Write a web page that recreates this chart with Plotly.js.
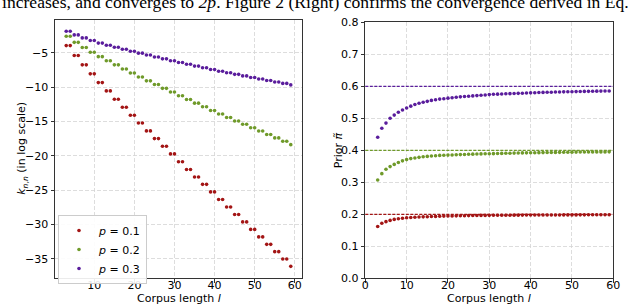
<!DOCTYPE html>
<html>
<head>
<meta charset="utf-8">
<script src="https://cdn.plot.ly/plotly-3.0.1.min.js"></script>
<style>html,body{margin:0;padding:0;background:#fff;}#chart{width:640px;height:304px;}</style>
</head>
<body>
<div id="chart"></div>
<script>
// Corpus length l
const corpusLength = [3,4,5,6,7,8,9,10,11,12,13,14,15,16,17,18,19,20,21,22,23,24,25,26,27,28,29,30,31,32,33,34,35,36,37,38,39,40,41,42,43,44,45,46,47,48,49,50,51,52,53,54,55,56,57,58,59];
// Left panel: k_{n,n} (in log scale)
const kP01 = [-3.94,-3.94,-5.39,-5.39,-6.75,-6.75,-8.06,-8.06,-9.33,-9.33,-10.54,-10.54,-11.76,-11.76,-12.92,-12.92,-14.08,-14.08,-15.22,-15.22,-16.37,-16.37,-17.49,-17.49,-18.60,-18.60,-19.72,-19.72,-20.87,-20.87,-21.99,-21.99,-23.08,-23.08,-24.16,-24.16,-25.26,-25.26,-26.36,-26.36,-27.45,-27.45,-28.54,-28.54,-29.63,-29.63,-30.72,-30.72,-31.81,-31.81,-32.90,-32.90,-33.96,-33.96,-35.03,-35.03,-36.10];
const kP02 = [-2.58,-2.58,-3.47,-3.47,-4.22,-4.22,-4.92,-4.92,-5.55,-5.55,-6.16,-6.16,-6.75,-6.75,-7.35,-7.35,-7.94,-7.94,-8.52,-8.52,-9.08,-9.08,-9.62,-9.62,-10.17,-10.17,-10.70,-10.70,-11.25,-11.25,-11.79,-11.79,-12.33,-12.33,-12.86,-12.86,-13.39,-13.39,-13.90,-13.90,-14.42,-14.42,-14.92,-14.92,-15.41,-15.41,-15.90,-15.90,-16.39,-16.39,-16.90,-16.90,-17.39,-17.39,-17.88,-17.88,-18.37];
const kP03 = [-1.85,-1.85,-2.38,-2.38,-2.82,-2.82,-3.21,-3.21,-3.58,-3.58,-3.90,-3.90,-4.19,-4.19,-4.48,-4.48,-4.76,-4.76,-5.04,-5.04,-5.32,-5.32,-5.60,-5.60,-5.87,-5.87,-6.14,-6.14,-6.41,-6.41,-6.66,-6.66,-6.93,-6.93,-7.18,-7.18,-7.43,-7.43,-7.67,-7.67,-7.90,-7.90,-8.13,-8.13,-8.36,-8.36,-8.58,-8.58,-8.80,-8.80,-9.03,-9.03,-9.25,-9.25,-9.45,-9.45,-9.67];
// Right panel: prior pi-tilde
const priorP01 = [0.162,0.172,0.177,0.181,0.184,0.186,0.1875,0.189,0.190,0.191,0.1915,0.192,0.1925,0.193,0.1935,0.194,0.1943,0.1946,0.1949,0.1952,0.1955,0.1957,0.1959,0.1961,0.1963,0.1965,0.1966,0.1967,0.1968,0.1969,0.197,0.1971,0.1972,0.1973,0.1974,0.1975,0.1976,0.1977,0.1977,0.1978,0.1978,0.1979,0.1979,0.198,0.198,0.1981,0.1981,0.1982,0.1982,0.1983,0.1983,0.1984,0.1984,0.1985,0.1985,0.1985,0.1986];
const priorP02 = [0.307,0.327,0.341,0.349,0.356,0.362,0.367,0.371,0.374,0.376,0.378,0.380,0.381,0.382,0.383,0.384,0.3845,0.385,0.3855,0.386,0.3865,0.387,0.3875,0.388,0.3884,0.3888,0.389,0.3893,0.3896,0.39,0.3903,0.3906,0.391,0.3912,0.3915,0.3918,0.392,0.3922,0.3924,0.3926,0.3928,0.393,0.3932,0.3934,0.3936,0.3938,0.394,0.3942,0.3944,0.3945,0.3946,0.3947,0.3948,0.3949,0.395,0.395,0.3952];
const priorP03 = [0.441,0.469,0.485,0.500,0.510,0.519,0.526,0.532,0.538,0.543,0.547,0.550,0.553,0.556,0.558,0.560,0.561,0.563,0.564,0.566,0.567,0.568,0.569,0.570,0.571,0.572,0.573,0.574,0.575,0.5755,0.576,0.5765,0.577,0.5775,0.578,0.5785,0.579,0.5795,0.580,0.5805,0.581,0.5813,0.5816,0.582,0.5823,0.5826,0.5829,0.5832,0.5835,0.5838,0.584,0.5842,0.5845,0.5848,0.585,0.5853,0.5855];
// Limits 2p
const limits = [0.2, 0.4, 0.6];
const seriesNames = ['<i>p</i> = 0.1', '<i>p</i> = 0.2', '<i>p</i> = 0.3'];
const xTitle = 'Corpus length <i>l</i>';
const yTitleLeft = '<i>k</i><sub><i>n</i>,<i>n</i></sub> (in log scale)';
const yTitleRight = 'Prior <i>π̃</i>';
const topText = 'increases, and converges to <i>2p</i>. Figure 2 (Right) confirms the convergence derived in Eq.';

const colors = ['#a31515', '#6f9a2a', '#5a1d9c'];
const leftSeries = [kP01, kP02, kP03];
const rightSeries = [priorP01, priorP02, priorP03];

const traces = [];
leftSeries.forEach((ys, i) => {
  traces.push({x: corpusLength, y: ys, type: 'scatter', mode: 'markers', name: seriesNames[i],
    marker: {color: colors[i], size: 3.6}, xaxis: 'x', yaxis: 'y', showlegend: true});
});
rightSeries.forEach((ys, i) => {
  traces.push({x: corpusLength, y: ys, type: 'scatter', mode: 'markers', name: seriesNames[i],
    marker: {color: colors[i], size: 3.6}, xaxis: 'x2', yaxis: 'y2', showlegend: false});
});

const shapes = limits.map((v, i) => ({type: 'line', xref: 'x2 domain', x0: 0, x1: 1, yref: 'y2', y0: v, y1: v,
  line: {color: colors[i], width: 1.2, dash: '3px,1.5px'}, layer: 'above'}));

const tickFont = {family: 'DejaVu Sans, sans-serif', size: 11, color: '#000'};
const axisCommon = {showline: true, mirror: true, linecolor: '#333', linewidth: 1, ticks: 'outside', ticklen: 3.5,
  tickcolor: '#333', tickfont: tickFont, showgrid: true, gridcolor: '#d4d4d4', griddash: '4px,2px', gridwidth: 0.8,
  zeroline: false, automargin: false};

const titleFont = {family: 'DejaVu Sans, sans-serif', size: 11, color: '#000'};
const layout = {
  width: 640, height: 304, margin: {l: 0, r: 0, t: 0, b: 0}, paper_bgcolor: '#fff', plot_bgcolor: '#fff',
  showlegend: true,
  font: {family: 'DejaVu Sans, sans-serif', size: 11, color: '#000'},
  xaxis: Object.assign({}, axisCommon, {domain: [55/640, 302/640], range: [0.2, 61.8], tickvals: [10,20,30,40,50,60], anchor: 'y', ticklabelstandoff: -7}),
  yaxis: Object.assign({}, axisCommon, {domain: [26/304, 284.5/304], range: [-37.8, -0.14], tickvals: [-35,-30,-25,-20,-15,-10,-5], anchor: 'x'}),
  xaxis2: Object.assign({}, axisCommon, {domain: [365.3/640, 613.3/640], range: [0, 60], tickvals: [0,10,20,30,40,50,60], anchor: 'y2', ticklabelstandoff: -7}),
  yaxis2: Object.assign({}, axisCommon, {domain: [25.7/304, 281.7/304], range: [0, 0.8], tickvals: [0,0.1,0.2,0.3,0.4,0.5,0.6,0.7,0.8],
    tickformat: '.1f', anchor: 'x2'}),
  legend: {x: 58/640, y: (304-215)/304, xanchor: 'left', yanchor: 'top', bgcolor: 'rgba(255,255,255,0.9)', bordercolor: '#ccc',
    borderwidth: 1, font: {size: 11}, itemsizing: 'trace', tracegroupgap: 0},
  shapes: shapes,
  annotations: [
    {xref: 'paper', yref: 'paper', x: 0, y: 1, xanchor: 'left', yanchor: 'middle', yshift: -2,
      text: topText, showarrow: false, font: {family: 'Liberation Serif, serif', size: 17.6, color: '#000'}},
    {xref: 'paper', yref: 'paper', x: 178.5/640, y: 6/304, xanchor: 'center', yanchor: 'middle',
      text: xTitle, showarrow: false, font: titleFont},
    {xref: 'paper', yref: 'paper', x: 489.3/640, y: 6/304, xanchor: 'center', yanchor: 'middle',
      text: xTitle, showarrow: false, font: titleFont},
    {xref: 'paper', yref: 'paper', x: 22/640, y: (304-148.75)/304, xanchor: 'center', yanchor: 'middle', textangle: -90,
      text: yTitleLeft, showarrow: false, font: titleFont},
    {xref: 'paper', yref: 'paper', x: 338/640, y: (304-150.3)/304, xanchor: 'center', yanchor: 'middle', textangle: -90,
      text: yTitleRight, showarrow: false, font: titleFont}
  ]
};

Plotly.newPlot('chart', traces, layout, {displayModeBar: false, staticPlot: true});
</script>
</body>
</html>
